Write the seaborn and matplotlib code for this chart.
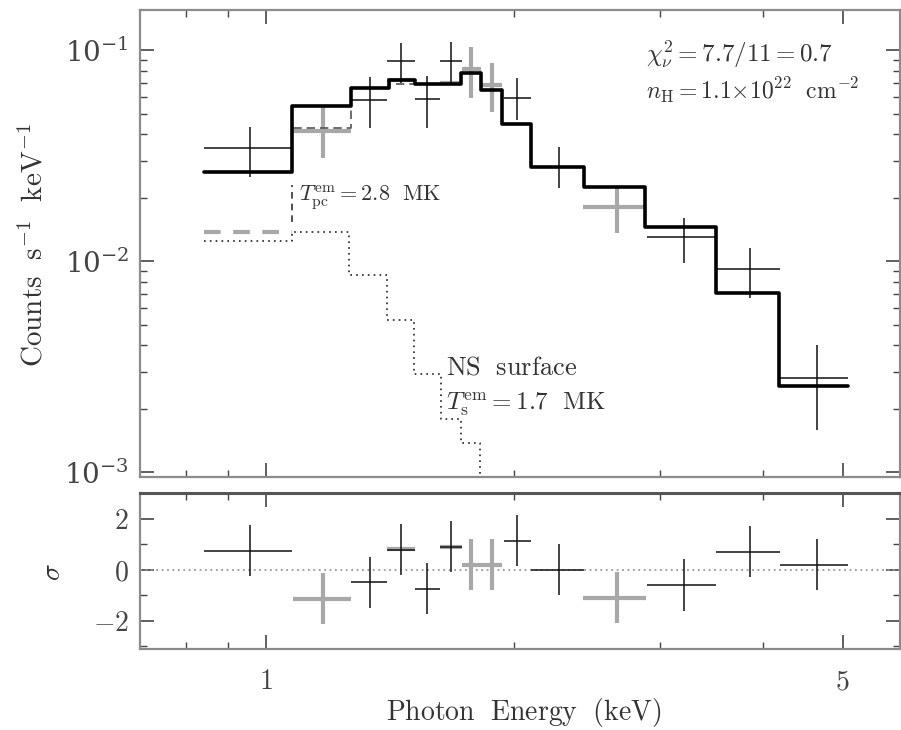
import numpy as np
import pandas as pd
import matplotlib
matplotlib.use("Agg")
import matplotlib.pyplot as plt
import seaborn as sns
from matplotlib.ticker import FixedLocator, NullFormatter, LogLocator, LogFormatterSciNotation

# ---------------- data ----------------
# black data set (E bin edges, centre, flux, lower / upper flux error bounds)
blk_lo = [0.841, 1.268, 1.402, 1.516, 1.626, 1.940, 2.097, 2.892, 3.516, 4.194]
blk_hi = [1.075, 1.402, 1.516, 1.626, 1.729, 2.097, 2.432, 3.516, 4.194, 5.073]
blk_E = [0.956, 1.337, 1.458, 1.568, 1.677, 2.017, 2.268, 3.207, 3.857, 4.651]
blk_F = [0.0343, 0.0579, 0.0887, 0.0586, 0.0887, 0.0592, 0.0279, 0.0130, 0.00916, 0.00279]
blk_Flo = [0.0250, 0.0427, 0.0698, 0.0427, 0.0690, 0.0466, 0.0222, 0.00978, 0.00668, 0.00158]
blk_Fhi = [0.0432, 0.0745, 0.1079, 0.0753, 0.1091, 0.0737, 0.0347, 0.0160, 0.01153, 0.00400]
blk_res = [0.75, -0.5, 0.78, -0.74, 0.9, 1.13, 0.0, -0.6, 0.7, 0.2]
blk_res_err = [1.0, 1.0, 1.0, 1.0, 1.0, 1.0, 1.0, 1.0, 1.0, 1.0]

# grey data set
gry_lo = [1.078, 1.402, 1.626, 1.729, 1.823, 2.425]
gry_hi = [1.268, 1.516, 1.729, 1.823, 1.934, 2.884]
gry_E = [1.173, 1.458, 1.677, 1.773, 1.880, 2.660]
gry_F = [0.0413, 0.0721, 0.0698, 0.0813, 0.0683, 0.0180]
gry_Flo = [0.0308, 0.0721, 0.0698, 0.0592, 0.0508, 0.0136]
gry_Fhi = [0.0537, 0.0721, 0.0698, 0.1033, 0.0868, 0.0224]
gry_res = [-1.13, 0.8, 0.9, 0.2, 0.2, -1.1]
gry_res_err = [1.0, 0.0, 0.0, 1.0, 1.0, 1.0]

# total model (step)
mod_edges = [0.841, 1.075, 1.268, 1.410, 1.516, 1.724, 1.823, 1.934, 2.097, 2.432, 2.876, 3.507, 4.182, 5.073]
mod_blk = [0.0264, 0.0543, 0.0660, 0.0721, 0.0690, 0.0778, 0.0646, 0.0446, 0.0279, 0.0224, 0.0145, 0.00705, 0.00256]
mod_gry = [0.0264, 0.0427, 0.0660, 0.0690, 0.0690, 0.0778, 0.0646, 0.0446, 0.0279, 0.0224, 0.0145, 0.00705, 0.00256]

# NS surface component (dotted step)
ns_edges = [0.841, 1.075, 1.261, 1.402, 1.512, 1.631, 1.724, 1.818, 1.880]
ns_vals = [0.01245, 0.0137, 0.00859, 0.00525, 0.00291, 0.00178, 0.00137, 1e-5]

# polar-cap component pieces (dashed)
pc_edges = [0.841, 1.075]
pc_vals = [0.0137]
pc_rise_E = [1.075, 1.075]
pc_rise_F = [0.0153, 0.0229]

x_major = [1, 5]
x_major_labels = ["$1$", "$5$"]
x_minor = [0.8, 0.9, 2, 3, 4]

# ---------------- style ----------------
sns.set_theme(style="ticks")
plt.rcParams.update({
    "font.family": ["DejaVu Serif"],
    "mathtext.fontset": "cm",
    "xtick.direction": "in",
    "ytick.direction": "in",
    "axes.edgecolor": "#8c8c8c",
    "axes.linewidth": 1.6,
    "xtick.color": "#444444",
    "ytick.color": "#444444",
    "text.color": "#333333",
    "axes.labelcolor": "#333333",
})

fig = plt.figure(figsize=(9.01, 7.30), dpi=100)
ax1 = fig.add_axes([0.1554, 0.3466, 0.8435, 0.6397])
ax2 = fig.add_axes([0.1554, 0.111, 0.8435, 0.2137], sharex=ax1)

GREY = "#a8a8a8"


def step_df(edges, vals):
    return pd.DataFrame({"E": list(edges), "F": list(vals) + [vals[-1]]})


def crosses(ax, E, lo, hi, y, ylo, yhi, color, lw_h, lw_v):
    E = np.array(E); y = np.array(y)
    ax.errorbar(E, y, xerr=[E - np.array(lo), np.array(hi) - E], fmt="none",
                ecolor=color, elinewidth=lw_h, capsize=0, zorder=2)
    ax.errorbar(E, y, yerr=[y - np.array(ylo), np.array(yhi) - y], fmt="none",
                ecolor=color, elinewidth=lw_v, capsize=0, zorder=2)


# ---------------- top panel ----------------
crosses(ax1, gry_E, gry_lo, gry_hi, gry_F, gry_Flo, gry_Fhi, GREY, 3.0, 3.0)
crosses(ax1, blk_E, blk_lo, blk_hi, blk_F, blk_Flo, blk_Fhi, "#111111", 1.1, 1.1)

d = step_df(mod_edges, mod_blk)
sns.lineplot(data=d, x="E", y="F", ax=ax1, drawstyle="steps-post", estimator=None,
             sort=False, color="black", linewidth=2.6, zorder=4)
d = step_df(mod_edges, mod_gry)
sns.lineplot(data=d, x="E", y="F", ax=ax1, drawstyle="steps-post", estimator=None,
             sort=False, color="#555555", linewidth=1.2, linestyle=(0, (5, 3)), zorder=3)
d = step_df(ns_edges, ns_vals)
sns.lineplot(data=d, x="E", y="F", ax=ax1, drawstyle="steps-post", estimator=None,
             sort=False, color="#222222", linewidth=1.2, linestyle=(0, (1, 2.5)), zorder=3)
d = step_df(pc_edges, pc_vals)
sns.lineplot(data=d, x="E", y="F", ax=ax1, drawstyle="steps-post", estimator=None,
             sort=False, color=GREY, linewidth=3.0, linestyle=(0, (4, 3)), zorder=3)
sns.lineplot(x=pc_rise_E, y=pc_rise_F, ax=ax1, estimator=None, sort=False,
             color="#333333", linewidth=1.2, linestyle=(0, (4, 3)), zorder=3)

ax1.set_xscale("log")
ax1.set_yscale("log")
ax1.set_xlim(0.703, 5.87)
ax1.set_ylim(9.5e-4, 0.155)
ax1.yaxis.set_major_locator(LogLocator(base=10, numticks=10))
ax1.yaxis.set_major_formatter(LogFormatterSciNotation())
ax1.yaxis.set_minor_locator(LogLocator(base=10, subs=np.arange(2, 10), numticks=20))
ax1.yaxis.set_minor_formatter(NullFormatter())
ax1.set_ylabel(r"$\mathrm{Counts\ \ s^{-1}\ \ keV^{-1}}$", fontsize=21)
ax1.yaxis.set_label_coords(-0.121, 0.497)
ax1.set_xlabel("")

ax1.text(0.666, 0.904, r"$\chi^2_\nu\mathrm{=7.7/11=0.7}$", transform=ax1.transAxes,
         fontsize=18, va="center", ha="left")
ax1.text(0.666, 0.829, r"$n_\mathrm{H}\mathrm{=1.1{\times}10^{22}\ \ cm^{-2}}$", transform=ax1.transAxes,
         fontsize=17, va="center", ha="left")
ax1.text(0.209, 0.597, r"$T^\mathrm{em}_\mathrm{pc}\mathrm{=2.8\ \ MK}$", transform=ax1.transAxes,
         fontsize=16, va="center", ha="left")
ax1.text(0.403, 0.236, r"$\mathrm{NS\ \ surface}$", transform=ax1.transAxes,
         fontsize=19, va="center", ha="left")
ax1.text(0.403, 0.154, r"$T^\mathrm{em}_\mathrm{s}\mathrm{=1.7\ \ MK}$", transform=ax1.transAxes,
         fontsize=18, va="center", ha="left")

# ---------------- bottom panel ----------------
ax2.axhline(0, color="#999999", linewidth=1.3, linestyle=(0, (1, 2)), zorder=1)
crosses(ax2, gry_E, gry_lo, gry_hi, gry_res,
        np.array(gry_res) - np.array(gry_res_err), np.array(gry_res) + np.array(gry_res_err),
        GREY, 3.0, 3.0)
crosses(ax2, blk_E, blk_lo, blk_hi, blk_res,
        np.array(blk_res) - np.array(blk_res_err), np.array(blk_res) + np.array(blk_res_err),
        "#111111", 1.1, 1.1)
ax2.set_ylim(-3.1, 3.0)
ax2.yaxis.set_major_locator(FixedLocator([-2, 0, 2]))
ax2.set_yticklabels(["$-2$", "$0$", "$2$"])
ax2.yaxis.set_minor_locator(FixedLocator([-3, -1, 1]))
ax2.set_ylabel(r"$\sigma$", fontsize=20)
ax2.yaxis.set_label_coords(-0.097, 0.49)
ax2.set_xlabel(r"$\mathrm{Photon\ \ Energy\ \ (keV)}$", fontsize=20)
ax2.xaxis.set_label_coords(0.505, -0.30)

for ax in (ax1, ax2):
    ax.xaxis.set_major_locator(FixedLocator(x_major))
    ax.xaxis.set_minor_locator(FixedLocator(x_minor))
    ax.xaxis.set_minor_formatter(NullFormatter())
    ax.tick_params(which="both", top=True, right=True, direction="in", labelsize=20)
    ax.tick_params(which="major", length=10, width=1.2)
    ax.tick_params(which="minor", length=5, width=1.0)
    ax.tick_params(axis="x", pad=14)
    ax.tick_params(axis="y", pad=8)
ax2.set_xticklabels(x_major_labels)
ax1.tick_params(axis="x", labelbottom=False)
ax2.spines["top"].set_color("#555555")
ax2.spines["top"].set_linewidth(2.2)

fig.savefig("out.png", dpi=100)
